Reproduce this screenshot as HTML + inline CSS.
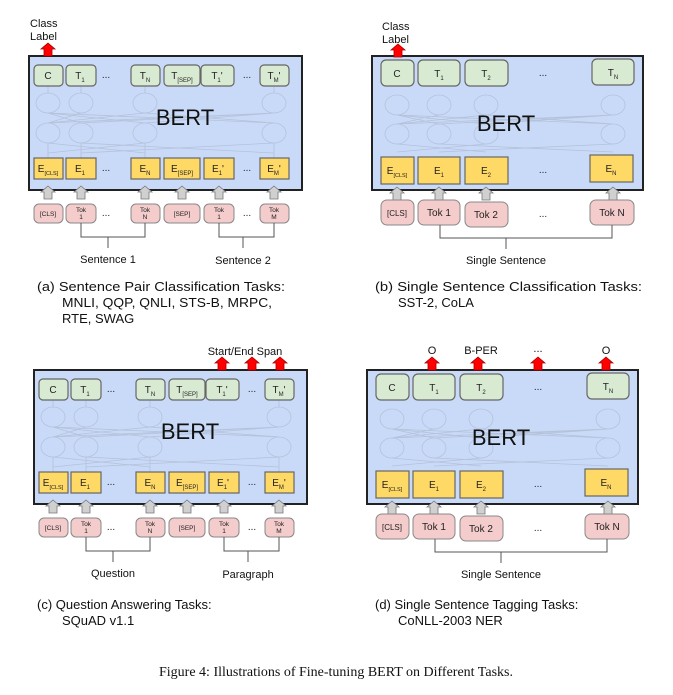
<!DOCTYPE html>
<html><head><meta charset="utf-8"><style>
html,body{margin:0;padding:0;background:#fff;}
svg{display:block;}
text{font-family:"Liberation Sans",sans-serif;}
</style></head><body>
<svg width="673" height="695" viewBox="0 0 673 695" xmlns="http://www.w3.org/2000/svg">
<defs>
<style>
.g{fill:#d9ead3;stroke:#666;stroke-width:1.2}
.y{fill:#ffd966;stroke:#666;stroke-width:1.2}
.p{fill:#f4cccc;stroke:#888;stroke-width:1}
.ga{fill:#d0d0d0;stroke:#777;stroke-width:0.8}
.ra{fill:#ff0000;stroke:#a00;stroke-width:0.8}
.n{fill:none;stroke:#b4c2da;stroke-width:0.8}
.t{font-size:10px;fill:#222;text-anchor:middle}
.s{font-size:6.5px;fill:#222;text-anchor:middle}
.l{font-size:11px;fill:#111;text-anchor:middle}
.c{font-size:13px;fill:#111}
</style>
</defs>

<!-- PANEL A -->
<g id="pa">
<rect x="29" y="56" width="273" height="134" fill="#c9daf8" stroke="#222" stroke-width="2"/>
<g class="n">
<ellipse cx="48" cy="103" rx="12" ry="10"/><ellipse cx="81" cy="103" rx="12" ry="10"/><ellipse cx="145" cy="103" rx="12" ry="10"/><ellipse cx="274" cy="103" rx="12" ry="10"/>
<ellipse cx="48" cy="133" rx="12" ry="10"/><ellipse cx="81" cy="133" rx="12" ry="10"/><ellipse cx="145" cy="133" rx="12" ry="10"/><ellipse cx="274" cy="133" rx="12" ry="10"/>
<path d="M48 123L81 113M48 123L145 113M48 123L274 113M81 123L48 113M81 123L274 113M145 123L48 113M145 123L274 113M274 123L48 113M274 123L145 113M48 153L145 143M81 153L274 143M145 153L48 143M274 153L81 143M48 86V93M81 86V93M145 86V93M274 86V93M48 158V143M81 158V143M145 158V143M274 158V143"/>
</g>
<text x="185" y="125" style="font-size:22px;fill:#111;text-anchor:middle">BERT</text>
<rect class="g" x="34" y="65" width="29" height="21" rx="4"/><text class="t" x="48" y="79">C</text>
<rect class="g" x="66" y="65" width="30" height="21" rx="4"/><text class="t" x="80" y="79">T<tspan font-size="6" dy="3">1</tspan></text>
<text class="t" x="106" y="78">...</text>
<rect class="g" x="131" y="65" width="29" height="21" rx="4"/><text class="t" x="145" y="79">T<tspan font-size="6" dy="3">N</tspan></text>
<rect class="g" x="164" y="65" width="36" height="21" rx="4"/><text class="t" x="182" y="79">T<tspan font-size="6" dy="3">[SEP]</tspan></text>
<rect class="g" x="201" y="65" width="33" height="21" rx="4"/><text class="t" x="217" y="79">T<tspan font-size="6" dy="3">1</tspan><tspan dy="-3">'</tspan></text>
<text class="t" x="247" y="78">...</text>
<rect class="g" x="260" y="65" width="29" height="21" rx="4"/><text class="t" x="274" y="79">T<tspan font-size="6" dy="3">M</tspan><tspan dy="-3">'</tspan></text>

<rect class="y" x="34" y="158" width="29" height="21"/><text class="t" x="48" y="172">E<tspan font-size="5.5" dy="3">[CLS]</tspan></text>
<rect class="y" x="66" y="158" width="30" height="21"/><text class="t" x="80" y="172">E<tspan font-size="6" dy="3">1</tspan></text>
<text class="t" x="106" y="171">...</text>
<rect class="y" x="131" y="158" width="29" height="21"/><text class="t" x="145" y="172">E<tspan font-size="6" dy="3">N</tspan></text>
<rect class="y" x="164" y="158" width="36" height="21"/><text class="t" x="182" y="172">E<tspan font-size="6" dy="3">[SEP]</tspan></text>
<rect class="y" x="204" y="158" width="30" height="21"/><text class="t" x="218" y="172">E<tspan font-size="6" dy="3">1</tspan><tspan dy="-3">'</tspan></text>
<text class="t" x="247" y="171">...</text>
<rect class="y" x="260" y="158" width="29" height="21"/><text class="t" x="274" y="172">E<tspan font-size="6" dy="3">M</tspan><tspan dy="-3">'</tspan></text>

<g class="ga">
<polygon points="48,186 55,192 52,192 52,199 44,199 44,192 41,192"/>
<polygon points="81,186 88,192 85,192 85,199 77,199 77,192 74,192"/>
<polygon points="145,186 152,192 149,192 149,199 141,199 141,192 138,192"/>
<polygon points="182,186 189,192 186,192 186,199 178,199 178,192 175,192"/>
<polygon points="219,186 226,192 223,192 223,199 215,199 215,192 212,192"/>
<polygon points="274,186 281,192 278,192 278,199 270,199 270,192 267,192"/>
</g>
<rect class="p" x="34" y="204" width="29" height="19" rx="5"/><text class="s" x="48" y="216">[CLS]</text>
<rect class="p" x="66" y="204" width="30" height="19" rx="5"/><text class="s" x="81" y="212">Tok</text><text class="s" x="81" y="219">1</text>
<text class="t" x="106" y="216">...</text>
<rect class="p" x="131" y="204" width="29" height="19" rx="5"/><text class="s" x="145" y="212">Tok</text><text class="s" x="145" y="219">N</text>
<rect class="p" x="164" y="204" width="36" height="19" rx="5"/><text class="s" x="182" y="216">[SEP]</text>
<rect class="p" x="204" y="204" width="30" height="19" rx="5"/><text class="s" x="219" y="212">Tok</text><text class="s" x="219" y="219">1</text>
<text class="t" x="247" y="216">...</text>
<rect class="p" x="260" y="204" width="29" height="19" rx="5"/><text class="s" x="274" y="212">Tok</text><text class="s" x="274" y="219">M</text>
<path d="M81 223V237H145V223M108 237V248M219 223V237H274V223M243 237V248" fill="none" stroke="#555" stroke-width="1"/>
</g>
<text class="l" x="108" y="263">Sentence 1</text>
<text class="l" x="243" y="264">Sentence 2</text>
<text x="30" y="27" style="font-size:11px;fill:#111">Class</text>
<text x="30" y="40" style="font-size:11px;fill:#111">Label</text>
<polygon class="ra" points="48,43 55,49 52,49 52,56 44,56 44,49 41,49"/>

<!-- PANEL C -->
<g transform="translate(5,314)">
<rect x="29" y="56" width="273" height="134" fill="#c9daf8" stroke="#222" stroke-width="2"/>
<g class="n">
<ellipse cx="48" cy="103" rx="12" ry="10"/><ellipse cx="81" cy="103" rx="12" ry="10"/><ellipse cx="145" cy="103" rx="12" ry="10"/><ellipse cx="274" cy="103" rx="12" ry="10"/>
<ellipse cx="48" cy="133" rx="12" ry="10"/><ellipse cx="81" cy="133" rx="12" ry="10"/><ellipse cx="145" cy="133" rx="12" ry="10"/><ellipse cx="274" cy="133" rx="12" ry="10"/>
<path d="M48 123L81 113M48 123L145 113M48 123L274 113M81 123L48 113M81 123L274 113M145 123L48 113M145 123L274 113M274 123L48 113M274 123L145 113M48 153L145 143M81 153L274 143M145 153L48 143M274 153L81 143M48 86V93M81 86V93M145 86V93M274 86V93M48 158V143M81 158V143M145 158V143M274 158V143"/>
</g>
<text x="185" y="125" style="font-size:22px;fill:#111;text-anchor:middle">BERT</text>
<rect class="g" x="34" y="65" width="29" height="21" rx="4"/><text class="t" x="48" y="79">C</text>
<rect class="g" x="66" y="65" width="30" height="21" rx="4"/><text class="t" x="80" y="79">T<tspan font-size="6" dy="3">1</tspan></text>
<text class="t" x="106" y="78">...</text>
<rect class="g" x="131" y="65" width="29" height="21" rx="4"/><text class="t" x="145" y="79">T<tspan font-size="6" dy="3">N</tspan></text>
<rect class="g" x="164" y="65" width="36" height="21" rx="4"/><text class="t" x="182" y="79">T<tspan font-size="6" dy="3">[SEP]</tspan></text>
<rect class="g" x="201" y="65" width="33" height="21" rx="4"/><text class="t" x="217" y="79">T<tspan font-size="6" dy="3">1</tspan><tspan dy="-3">'</tspan></text>
<text class="t" x="247" y="78">...</text>
<rect class="g" x="260" y="65" width="29" height="21" rx="4"/><text class="t" x="274" y="79">T<tspan font-size="6" dy="3">M</tspan><tspan dy="-3">'</tspan></text>
<rect class="y" x="34" y="158" width="29" height="21"/><text class="t" x="48" y="172">E<tspan font-size="5.5" dy="3">[CLS]</tspan></text>
<rect class="y" x="66" y="158" width="30" height="21"/><text class="t" x="80" y="172">E<tspan font-size="6" dy="3">1</tspan></text>
<text class="t" x="106" y="171">...</text>
<rect class="y" x="131" y="158" width="29" height="21"/><text class="t" x="145" y="172">E<tspan font-size="6" dy="3">N</tspan></text>
<rect class="y" x="164" y="158" width="36" height="21"/><text class="t" x="182" y="172">E<tspan font-size="6" dy="3">[SEP]</tspan></text>
<rect class="y" x="204" y="158" width="30" height="21"/><text class="t" x="218" y="172">E<tspan font-size="6" dy="3">1</tspan><tspan dy="-3">'</tspan></text>
<text class="t" x="247" y="171">...</text>
<rect class="y" x="260" y="158" width="29" height="21"/><text class="t" x="274" y="172">E<tspan font-size="6" dy="3">M</tspan><tspan dy="-3">'</tspan></text>
<g class="ga">
<polygon points="48,186 55,192 52,192 52,199 44,199 44,192 41,192"/>
<polygon points="81,186 88,192 85,192 85,199 77,199 77,192 74,192"/>
<polygon points="145,186 152,192 149,192 149,199 141,199 141,192 138,192"/>
<polygon points="182,186 189,192 186,192 186,199 178,199 178,192 175,192"/>
<polygon points="219,186 226,192 223,192 223,199 215,199 215,192 212,192"/>
<polygon points="274,186 281,192 278,192 278,199 270,199 270,192 267,192"/>
</g>
<rect class="p" x="34" y="204" width="29" height="19" rx="5"/><text class="s" x="48" y="216">[CLS]</text>
<rect class="p" x="66" y="204" width="30" height="19" rx="5"/><text class="s" x="81" y="212">Tok</text><text class="s" x="81" y="219">1</text>
<text class="t" x="106" y="216">...</text>
<rect class="p" x="131" y="204" width="29" height="19" rx="5"/><text class="s" x="145" y="212">Tok</text><text class="s" x="145" y="219">N</text>
<rect class="p" x="164" y="204" width="36" height="19" rx="5"/><text class="s" x="182" y="216">[SEP]</text>
<rect class="p" x="204" y="204" width="30" height="19" rx="5"/><text class="s" x="219" y="212">Tok</text><text class="s" x="219" y="219">1</text>
<text class="t" x="247" y="216">...</text>
<rect class="p" x="260" y="204" width="29" height="19" rx="5"/><text class="s" x="274" y="212">Tok</text><text class="s" x="274" y="219">M</text>
<path d="M81 223V237H145V223M108 237V248M219 223V237H274V223M243 237V248" fill="none" stroke="#555" stroke-width="1"/>
<text class="l" x="108" y="263">Question</text>
<text class="l" x="243" y="264">Paragraph</text>
<text class="l" x="240" y="41">Start/End Span</text>
<polygon class="ra" points="217,43 224,49 221,49 221,56 213,56 213,49 210,49"/>
<polygon class="ra" points="247,43 254,49 251,49 251,56 243,56 243,49 240,49"/>
<polygon class="ra" points="275,43 282,49 279,49 279,56 271,56 271,49 268,49"/>
</g>

<!-- PANEL B -->
<g>
<rect x="372" y="56" width="271" height="134" fill="#c9daf8" stroke="#222" stroke-width="2"/>
<g class="n">
<ellipse cx="397" cy="105" rx="12" ry="10"/><ellipse cx="439" cy="105" rx="12" ry="10"/><ellipse cx="486" cy="105" rx="12" ry="10"/><ellipse cx="613" cy="105" rx="12" ry="10"/>
<ellipse cx="397" cy="134" rx="12" ry="10"/><ellipse cx="439" cy="134" rx="12" ry="10"/><ellipse cx="486" cy="134" rx="12" ry="10"/><ellipse cx="613" cy="134" rx="12" ry="10"/>
<path d="M397 124L439 115M397 124L486 115M397 124L613 115M439 124L397 115M439 124L613 115M486 124L397 115M486 124L613 115M613 124L397 115M613 124L486 115M397 152L486 144M439 152L613 144M486 152L397 144M613 152L439 144"/>
</g>
<text x="506" y="131" style="font-size:22px;fill:#111;text-anchor:middle">BERT</text>
<rect class="g" x="381" y="60" width="33" height="26" rx="5"/><text class="t" x="397" y="77">C</text>
<rect class="g" x="418" y="60" width="42" height="26" rx="5"/><text class="t" x="439" y="77">T<tspan font-size="6" dy="3">1</tspan></text>
<rect class="g" x="465" y="60" width="43" height="26" rx="5"/><text class="t" x="486" y="77">T<tspan font-size="6" dy="3">2</tspan></text>
<text class="t" x="543" y="76">...</text>
<rect class="g" x="592" y="59" width="42" height="26" rx="5"/><text class="t" x="613" y="76">T<tspan font-size="6" dy="3">N</tspan></text>
<rect class="y" x="381" y="157" width="33" height="27"/><text class="t" x="397" y="174">E<tspan font-size="5.5" dy="3">[CLS]</tspan></text>
<rect class="y" x="418" y="157" width="42" height="27"/><text class="t" x="439" y="174">E<tspan font-size="6" dy="3">1</tspan></text>
<rect class="y" x="465" y="157" width="43" height="27"/><text class="t" x="486" y="174">E<tspan font-size="6" dy="3">2</tspan></text>
<text class="t" x="543" y="173">...</text>
<rect class="y" x="590" y="155" width="43" height="27"/><text class="t" x="611" y="172">E<tspan font-size="6" dy="3">N</tspan></text>
<g class="ga">
<polygon points="397,187 404,193 401,193 401,200 393,200 393,193 390,193"/>
<polygon points="439,187 446,193 443,193 443,200 435,200 435,193 432,193"/>
<polygon points="486,187 493,193 490,193 490,200 482,200 482,193 479,193"/>
<polygon points="613,187 620,193 617,193 617,200 609,200 609,193 606,193"/>
</g>
<rect class="p" x="381" y="200" width="33" height="25" rx="6"/><text class="t" x="397" y="216" style="font-size:8px">[CLS]</text>
<rect class="p" x="418" y="200" width="42" height="25" rx="6"/><text class="t" x="439" y="216">Tok 1</text>
<rect class="p" x="465" y="202" width="43" height="25" rx="6"/><text class="t" x="486" y="218">Tok 2</text>
<text class="t" x="543" y="217">...</text>
<rect class="p" x="590" y="200" width="44" height="25" rx="6"/><text class="t" x="612" y="216">Tok N</text>
<path d="M440 225V238H612V225M506 238V249" fill="none" stroke="#555" stroke-width="1"/>
</g>
<text class="l" x="506" y="264">Single Sentence</text>
<text x="382" y="30" style="font-size:11px;fill:#111">Class</text>
<text x="382" y="43" style="font-size:11px;fill:#111">Label</text>
<polygon class="ra" points="398,44 405,50 402,50 402,57 394,57 394,50 391,50"/>

<!-- PANEL D -->
<g transform="translate(-5,314)">
<rect x="372" y="56" width="271" height="134" fill="#c9daf8" stroke="#222" stroke-width="2"/>
<g class="n">
<ellipse cx="397" cy="105" rx="12" ry="10"/><ellipse cx="439" cy="105" rx="12" ry="10"/><ellipse cx="486" cy="105" rx="12" ry="10"/><ellipse cx="613" cy="105" rx="12" ry="10"/>
<ellipse cx="397" cy="134" rx="12" ry="10"/><ellipse cx="439" cy="134" rx="12" ry="10"/><ellipse cx="486" cy="134" rx="12" ry="10"/><ellipse cx="613" cy="134" rx="12" ry="10"/>
<path d="M397 124L439 115M397 124L486 115M397 124L613 115M439 124L397 115M439 124L613 115M486 124L397 115M486 124L613 115M613 124L397 115M613 124L486 115M397 152L486 144M439 152L613 144M486 152L397 144M613 152L439 144"/>
</g>
<text x="506" y="131" style="font-size:22px;fill:#111;text-anchor:middle">BERT</text>
<rect class="g" x="381" y="60" width="33" height="26" rx="5"/><text class="t" x="397" y="77">C</text>
<rect class="g" x="418" y="60" width="42" height="26" rx="5"/><text class="t" x="439" y="77">T<tspan font-size="6" dy="3">1</tspan></text>
<rect class="g" x="465" y="60" width="43" height="26" rx="5"/><text class="t" x="486" y="77">T<tspan font-size="6" dy="3">2</tspan></text>
<text class="t" x="543" y="76">...</text>
<rect class="g" x="592" y="59" width="42" height="26" rx="5"/><text class="t" x="613" y="76">T<tspan font-size="6" dy="3">N</tspan></text>
<rect class="y" x="381" y="157" width="33" height="27"/><text class="t" x="397" y="174">E<tspan font-size="5.5" dy="3">[CLS]</tspan></text>
<rect class="y" x="418" y="157" width="42" height="27"/><text class="t" x="439" y="174">E<tspan font-size="6" dy="3">1</tspan></text>
<rect class="y" x="465" y="157" width="43" height="27"/><text class="t" x="486" y="174">E<tspan font-size="6" dy="3">2</tspan></text>
<text class="t" x="543" y="173">...</text>
<rect class="y" x="590" y="155" width="43" height="27"/><text class="t" x="611" y="172">E<tspan font-size="6" dy="3">N</tspan></text>
<g class="ga">
<polygon points="397,187 404,193 401,193 401,200 393,200 393,193 390,193"/>
<polygon points="439,187 446,193 443,193 443,200 435,200 435,193 432,193"/>
<polygon points="486,187 493,193 490,193 490,200 482,200 482,193 479,193"/>
<polygon points="613,187 620,193 617,193 617,200 609,200 609,193 606,193"/>
</g>
<rect class="p" x="381" y="200" width="33" height="25" rx="6"/><text class="t" x="397" y="216" style="font-size:8px">[CLS]</text>
<rect class="p" x="418" y="200" width="42" height="25" rx="6"/><text class="t" x="439" y="216">Tok 1</text>
<rect class="p" x="465" y="202" width="43" height="25" rx="6"/><text class="t" x="486" y="218">Tok 2</text>
<text class="t" x="543" y="217">...</text>
<rect class="p" x="590" y="200" width="44" height="25" rx="6"/><text class="t" x="612" y="216">Tok N</text>
<path d="M440 225V238H612V225M506 238V249" fill="none" stroke="#555" stroke-width="1"/>
<text class="l" x="506" y="264">Single Sentence</text>
<text class="l" x="437" y="40">O</text>
<text class="l" x="486" y="40">B-PER</text>
<text class="l" x="543" y="38">...</text>
<text class="l" x="611" y="40">O</text>
<polygon class="ra" points="437,43 444,49 441,49 441,56 433,56 433,49 430,49"/>
<polygon class="ra" points="483,43 490,49 487,49 487,56 479,56 479,49 476,49"/>
<polygon class="ra" points="543,43 550,49 547,49 547,56 539,56 539,49 536,49"/>
<polygon class="ra" points="611,43 618,49 615,49 615,56 607,56 607,49 604,49"/>
</g>

<!-- Captions -->
<text class="c" x="37" y="291" textLength="248" lengthAdjust="spacingAndGlyphs">(a) Sentence Pair Classification Tasks:</text>
<text class="c" x="62" y="307" textLength="210" lengthAdjust="spacingAndGlyphs">MNLI, QQP, QNLI, STS-B, MRPC,</text>
<text class="c" x="62" y="323">RTE, SWAG</text>
<text class="c" x="375" y="291" textLength="267" lengthAdjust="spacingAndGlyphs">(b) Single Sentence Classification Tasks:</text>
<text class="c" x="398" y="307">SST-2, CoLA</text>
<text class="c" x="37" y="609">(c) Question Answering Tasks:</text>
<text class="c" x="62" y="625">SQuAD v1.1</text>
<text class="c" x="375" y="609">(d) Single Sentence Tagging Tasks:</text>
<text class="c" x="398" y="625">CoNLL-2003 NER</text>
<text x="336" y="676" style="font-family:'Liberation Serif',serif;font-size:14px;fill:#111;text-anchor:middle">Figure 4: Illustrations of Fine-tuning BERT on Different Tasks.</text>
</svg>
</body></html>
